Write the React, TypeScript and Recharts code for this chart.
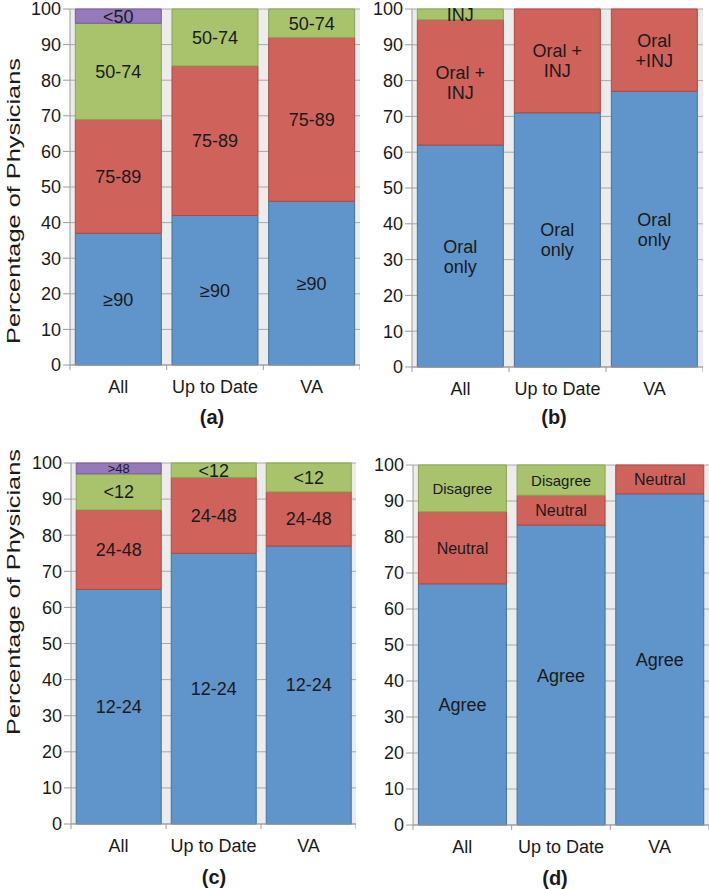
import React from 'react';
import { BarChart, Bar, XAxis, YAxis, CartesianGrid, LabelList } from 'recharts';

const categories = ['All', 'Up to Date', 'VA'];
const yTicks = [0, 10, 20, 30, 40, 50, 60, 70, 80, 90, 100];

// (a)
const aGe90 = [37, 42, 46];
const a75to89 = [32, 42, 46];
const a50to74 = [27, 16, 8];
const aLt50 = [4, 0, 0];

// (b)
const bOralOnly = [62, 71, 77];
const bOralInj = [35, 29, 23];
const bInj = [3, 0, 0];
const bOralInjLabels = ['Oral +\nINJ', 'Oral +\nINJ', 'Oral\n+INJ'];

// (c)
const c12to24 = [65, 75, 77];
const c24to48 = [22, 21, 15];
const cLt12 = [10, 4, 8];
const cGt48 = [3, 0, 0];

// (d)
const dAgree = [67, 83.3, 92];
const dNeutral = [20, 8.3, 8];
const dDisagree = [13, 8.4, 0];

const BLUE = { fill: '#5f95ca', stroke: '#44739f' };
const RED = { fill: '#d0625c', stroke: '#b24842' };
const GREEN = { fill: '#a8c36c', stroke: '#8aa650' };
const PURPLE = { fill: '#9579ba', stroke: '#765b9c' };

const TEXT = '#1a1a1a';
const GREY = '#9c9c9c';

type Series = {
  values: number[];
  labels: string[];
  color: { fill: string; stroke: string };
  fontSize: number;
};

const same = (s: string) => categories.map(() => s);

const renderLabel = (p: any, labels: string[], fontSize: number) => {
  const { x, y, width, height, index, value } = p;
  if (!value) return null;
  const lines = String(labels[index]).split('\n');
  const cx = Number(x) + Number(width) / 2;
  const cy = Number(y) + Number(height) / 2;
  const lh = 20;
  const y0 = cy - ((lines.length - 1) * lh) / 2;
  return (
    <text x={cx} y={y0} textAnchor="middle" fontSize={fontSize} fill={TEXT}>
      {lines.map((l, i) => (
        <tspan key={i} x={cx} y={y0 + i * lh} dy="0.36em">
          {l}
        </tspan>
      ))}
    </text>
  );
};

const XTick = (p: any) => {
  const { x, y, payload, index, band } = p;
  return (
    <g>
      <line x1={x - band / 2} y1={y} x2={x - band / 2} y2={y + 5} stroke={GREY} />
      {index === categories.length - 1 && (
        <line x1={x + band / 2} y1={y} x2={x + band / 2} y2={y + 5} stroke={GREY} />
      )}
      <text x={x} y={y + 22} dy="0.36em" textAnchor="middle" fontSize={18} fill={TEXT}>
        {payload.value}
      </text>
    </g>
  );
};

type PanelProps = {
  series: Series[];
  left: number;
  top: number;
  width: number;
  height: number;
  marginTop: number;
  yWidth: number;
  xHeight: number;
  yLabelY?: number;
  caption: string;
  captionX: number;
  captionY: number;
};

const Panel = (props: PanelProps) => {
  const { series, left, top, width, height, marginTop, yWidth, xHeight, yLabelY, caption, captionX, captionY } = props;
  const data = categories.map((name, i) => {
    const row: any = { name };
    series.forEach((s, k) => {
      row['s' + k] = s.values[i];
    });
    return row;
  });
  const band = (width - yWidth) / categories.length;
  return (
    <>
      <div style={{ position: 'absolute', left, top }}>
        <BarChart
          width={width}
          height={height}
          data={data}
          margin={{ top: marginTop, right: 0, bottom: 0, left: 0 }}
          barCategoryGap="5.5%"
        >
          <CartesianGrid vertical={false} stroke="#a9a9a9" fill="#ececec" />
          <XAxis
            dataKey="name"
            height={xHeight}
            tickSize={0}
            tickMargin={0}
            axisLine={{ stroke: GREY }}
            tickLine={false}
            interval={0}
            tick={(p: any) => <XTick {...p} band={band} />}
          />
          <YAxis
            width={yWidth}
            domain={[0, 100]}
            ticks={yTicks}
            interval={0}
            tickSize={7}
            tickMargin={2}
            axisLine={{ stroke: GREY }}
            tickLine={{ stroke: GREY }}
            tick={{ fill: TEXT, fontSize: 18 }}
            label={
              yLabelY !== undefined
                ? {
                    content: () => (
                      <text
                        transform={`translate(20, ${yLabelY}) rotate(-90)`}
                        textAnchor="middle"
                        fontSize={18}
                        fill={TEXT}
                        textLength={286}
                        lengthAdjust="spacingAndGlyphs"
                      >
                        Percentage of Physicians
                      </text>
                    ),
                  }
                : undefined
            }
          />
          {series.map((s, k) => (
            <Bar
              key={k}
              dataKey={'s' + k}
              stackId="a"
              fill={s.color.fill}
              stroke={s.color.stroke}
              strokeWidth={1}
              isAnimationActive={false}
            >
              <LabelList dataKey={'s' + k} content={(p: any) => renderLabel(p, s.labels, s.fontSize)} />
            </Bar>
          ))}
        </BarChart>
      </div>
      <div
        style={{
          position: 'absolute',
          left: captionX - 40,
          top: captionY - 11,
          width: 80,
          textAlign: 'center',
          fontSize: 20,
          lineHeight: '22px',
          fontWeight: 'bold',
          color: TEXT,
        }}
      >
        {caption}
      </div>
    </>
  );
};

export default function App() {
  return (
    <div
      style={{
        position: 'absolute',
        left: 0,
        top: 0,
        width: 709,
        height: 889,
        background: '#fff',
        fontFamily: '"Liberation Sans", Arial, sans-serif',
      }}
    >
      <Panel
        series={[
          { values: aGe90, labels: same('≥90'), color: BLUE, fontSize: 18 },
          { values: a75to89, labels: same('75-89'), color: RED, fontSize: 18 },
          { values: a50to74, labels: same('50-74'), color: GREEN, fontSize: 18 },
          { values: aLt50, labels: same('<50'), color: PURPLE, fontSize: 18 },
        ]}
        left={0}
        top={0}
        width={360}
        height={430}
        marginTop={9}
        yWidth={70}
        xHeight={65}
        yLabelY={201}
        caption="(a)"
        captionX={212}
        captionY={417}
      />
      <Panel
        series={[
          { values: bOralOnly, labels: same('Oral\nonly'), color: BLUE, fontSize: 18 },
          { values: bOralInj, labels: bOralInjLabels, color: RED, fontSize: 18 },
          { values: bInj, labels: same('INJ'), color: GREEN, fontSize: 18 },
        ]}
        left={350}
        top={0}
        width={353}
        height={430}
        marginTop={9}
        yWidth={62}
        xHeight={63}
        caption="(b)"
        captionX={554}
        captionY={417}
      />
      <Panel
        series={[
          { values: c12to24, labels: same('12-24'), color: BLUE, fontSize: 18 },
          { values: c24to48, labels: same('24-48'), color: RED, fontSize: 18 },
          { values: cLt12, labels: same('<12'), color: GREEN, fontSize: 18 },
          { values: cGt48, labels: same('>48'), color: PURPLE, fontSize: 13 },
        ]}
        left={0}
        top={440}
        width={356}
        height={430}
        marginTop={23}
        yWidth={71}
        xHeight={46}
        yLabelY={152}
        caption="(c)"
        captionX={214}
        captionY={877}
      />
      <Panel
        series={[
          { values: dAgree, labels: same('Agree'), color: BLUE, fontSize: 18 },
          { values: dNeutral, labels: same('Neutral'), color: RED, fontSize: 16 },
          { values: dDisagree, labels: same('Disagree'), color: GREEN, fontSize: 15 },
        ]}
        left={350}
        top={440}
        width={359}
        height={430}
        marginTop={25}
        yWidth={63}
        xHeight={45}
        caption="(d)"
        captionX={555}
        captionY={878}
      />
    </div>
  );
}
